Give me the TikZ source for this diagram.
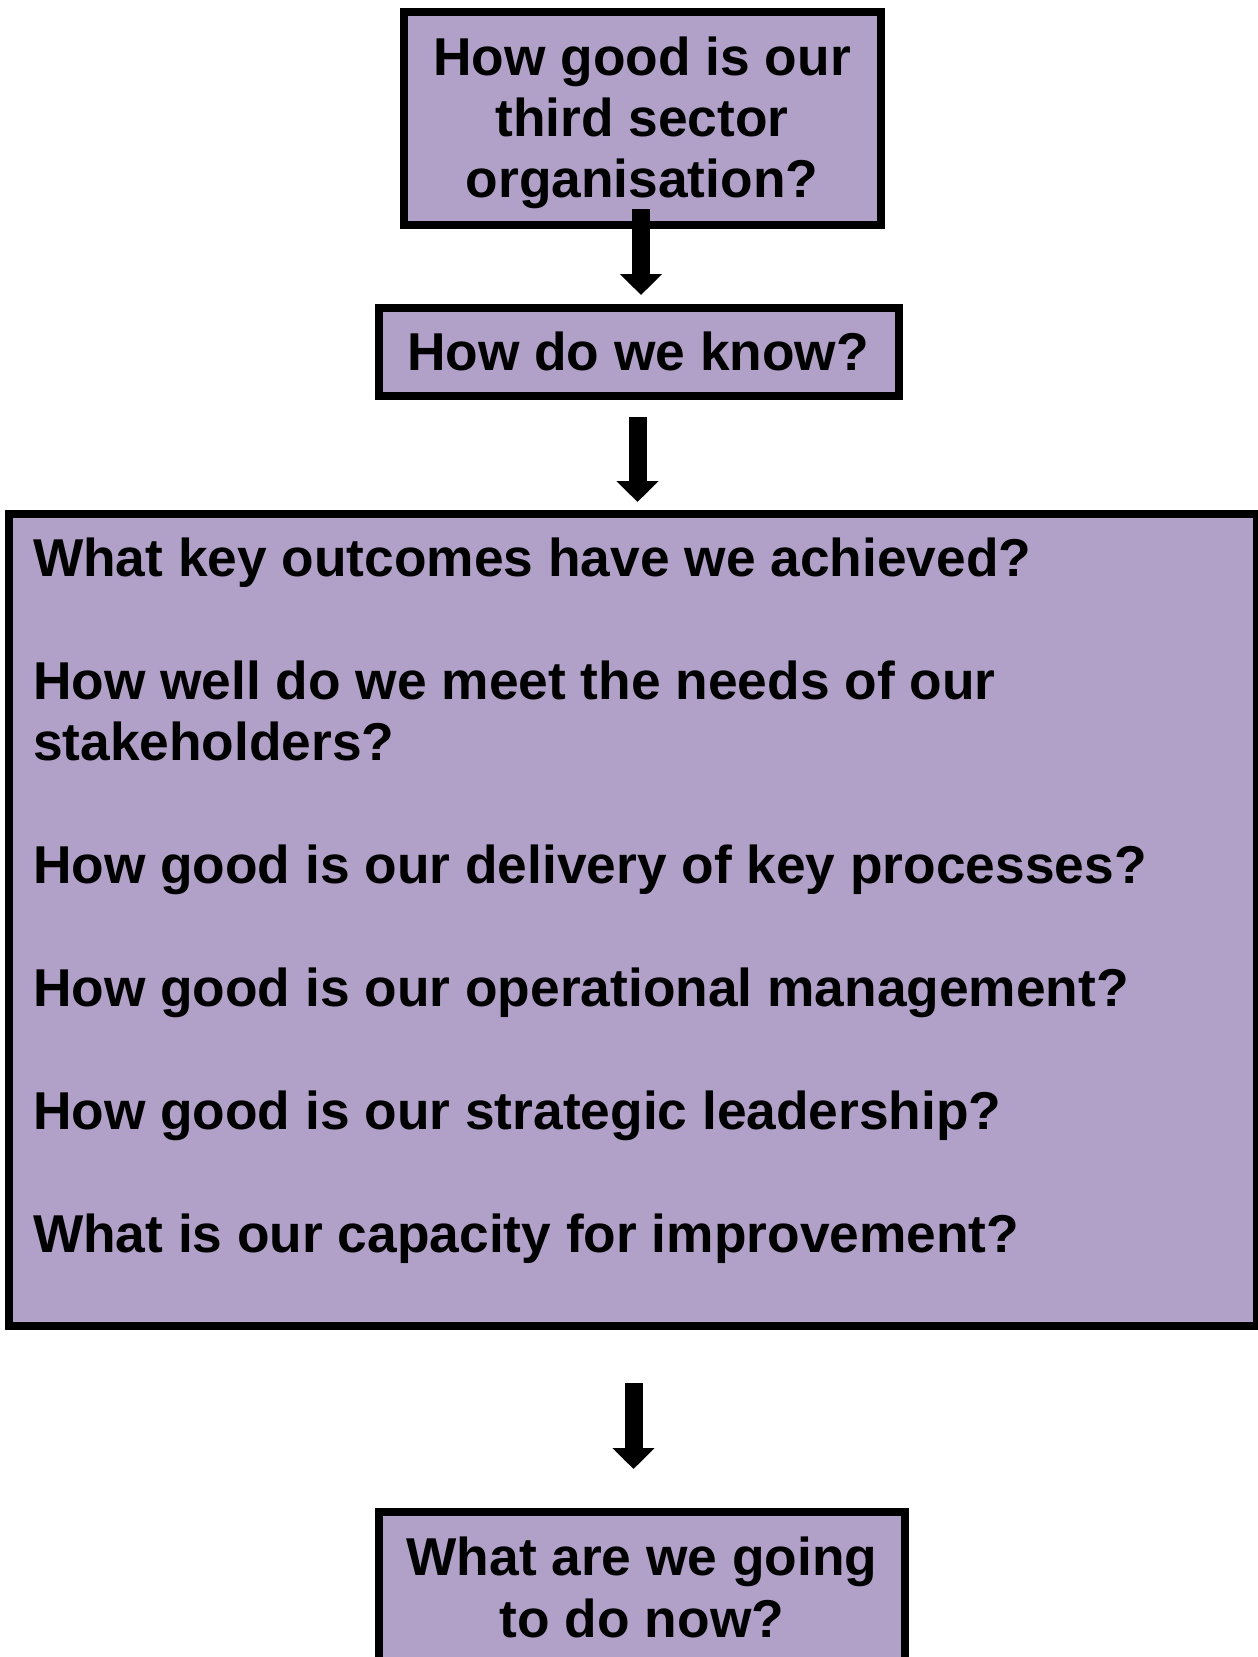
\documentclass[tikz,border=0pt]{standalone}
\usepackage{fontspec}
\setmainfont{Liberation Sans}
\usetikzlibrary{arrows.meta}
\definecolor{lav}{HTML}{B1A0C7}
\tikzset{
  qbox/.style={draw=black, line width=8pt, fill=lav, inner sep=0pt, outer sep=0pt},
  qtext/.style={font=\fontsize{53.3}{61.5}\selectfont\bfseries, inner sep=0pt, outer sep=0pt},
  bigarrow/.style={line width=18pt, -{Triangle[width=41pt,length=21pt]}}
}
\begin{document}
\begin{tikzpicture}[x=1pt,y=-1pt]
\useasboundingbox (0,0) rectangle (1258,1657);
% boxes
\node[qbox, minimum width=477pt, minimum height=213pt] (b1) at (642.5,118.5) {};
\node[qbox, minimum width=520pt, minimum height=88pt] (b2) at (639,352) {};
\node[qbox, minimum width=1248pt, minimum height=812pt] (b3) at (633,920) {};
\node[qbox, minimum width=526pt, minimum height=200pt] (b4) at (642,1612) {};
% texts (anchor=base is the baseline of the last line)
\node[qtext, align=center, anchor=base] (t1) at (642,197) {How good is our\\[-0.5pt]third sector\\[-0.5pt]organisation?};
\node[qtext, anchor=base] (t2) at (638,370) {How do we know?};
\node[qtext, align=left, anchor=base west] (t3) at (33,1252.5) {What key outcomes have we achieved?\\[61.5pt]How well do we meet the needs of our\\stakeholders?\\[61.5pt]How good is our delivery of key processes?\\[61.5pt]How good is our operational management?\\[61.5pt]How good is our strategic leadership?\\[61.5pt]What is our capacity for improvement?};
\node[qtext, align=center, anchor=base] (t4) at (642,1637) {What are we going\\[0.5pt]to do now?};
% arrows
\draw[bigarrow] ([xshift=-1.5pt,yshift=16pt]b1.south) -- ([xshift=2pt,yshift=13pt]b2.north);
\draw[bigarrow] ([xshift=-1.5pt,yshift=-21pt]b2.south) -- ([xshift=4.5pt,yshift=12pt]b3.north);
\draw[bigarrow] ([xshift=0.5pt,yshift=-57pt]b3.south) -- ([xshift=-8.5pt,yshift=43pt]b4.north);
\end{tikzpicture}
\end{document}
